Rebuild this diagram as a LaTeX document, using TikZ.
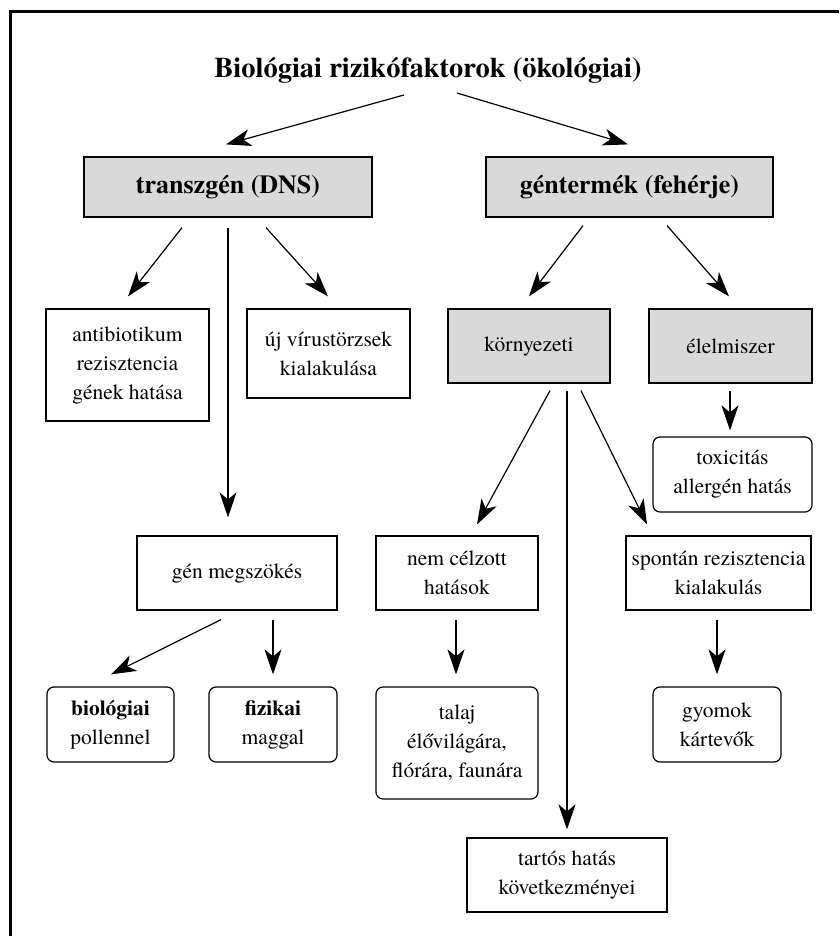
\documentclass[tikz,border=0pt]{standalone}
\usepackage{fontspec}
\IfFontExistsTF{texgyretermes-regular.otf}
  {\setmainfont{texgyretermes-regular.otf}[BoldFont=texgyretermes-bold.otf]}
  {\setmainfont{Liberation Serif}}
\usetikzlibrary{arrows.meta,calc}
\begin{document}
\begin{tikzpicture}[x=1pt,y=-1pt,
  box/.style={draw=black,line width=1.2pt,align=center,inner sep=0pt,font=\fontsize{21.5}{29}\selectfont},
  graybox/.style={box,fill=gray!30},
  rbox/.style={box,rounded corners=7pt},
  arr/.style={-{Stealth[length=25pt,width=17pt,inset=7pt]},line width=1.2pt},
  head/.style={font=\fontsize{26}{30}\selectfont\bfseries}]
\useasboundingbox (0,0) rectangle (839,936);
\draw[line width=3pt] (10,936) -- (10,12) -- (839,12);

\node[anchor=base,font=\fontsize{28.5}{34}\selectfont\bfseries] (title) at (428,78) {Biológiai rizikófaktorok (ökológiai)};

\node[graybox,head,minimum width=288pt,minimum height=60pt] (trans) at (228,187) {transzgén (DNS)};
\node[graybox,head,minimum width=287pt,minimum height=60pt] (gent) at (629.5,187) {géntermék (fehérje)};

\node[box,minimum width=163pt,minimum height=112pt] (anti) at (127.5,365) {antibiotikum\\rezisztencia\\gének hatása};
\node[box,minimum width=163pt,minimum height=89pt] (uj) at (328.5,353.5) {új vírustörzsek\\kialakulása};
\node[graybox,minimum width=162pt,minimum height=74pt] (korny) at (529,346) {környezeti};
\node[graybox,minimum width=163pt,minimum height=74pt] (elel) at (730.5,346) {élelmiszer};
\node[rbox,minimum width=159pt,minimum height=75pt] (tox) at (732.5,474.5) {toxicitás\\allergén hatás};

\node[box,minimum width=200pt,minimum height=74pt] (gen) at (237,573) {gén megszökés};
\node[box,minimum width=162pt,minimum height=74pt] (nemc) at (457,573) {nem célzott\\hatások};
\node[box,minimum width=185pt,minimum height=74pt] (spont) at (718.5,573) {spontán rezisztencia\\kialakulás};

\node[rbox,minimum width=127pt,minimum height=75pt] (bio) at (110.5,724.5) {\textbf{biológiai}\\pollennel};
\node[rbox,minimum width=128pt,minimum height=75pt] (fiz) at (273,724.5) {\textbf{fizikai}\\maggal};
\node[rbox,minimum width=162pt,minimum height=112pt] (talaj) at (457,743) {talaj\\élővilágára,\\flórára, faunára};
\node[rbox,minimum width=128pt,minimum height=75pt] (gyom) at (717,724.5) {gyomok\\kártevők};
\node[box,minimum width=200pt,minimum height=74pt] (tartos) at (567,875) {tartós hatás\\következményei};

\draw[arr] ($(title.base)+(-24,17)$) -- ($(trans.north)+(-2,-12)$);
\draw[arr] ($(title.base)+(29,15)$) -- ($(gent.north)+(-1.5,-12)$);

\draw[arr] ($(trans.south)+(-46,10)$) -- ($(anti.north)+(0.5,-12)$);
\draw[arr] ($(trans.south)+(0,10)$) -- ($(gen.north)+(-9,-18)$);
\draw[arr] ($(trans.south)+(38,10)$) -- ($(uj.north)+(-0.5,-12)$);

\draw[arr] ($(gent.south)+(-46.5,8)$) -- ($(korny.north)+(0,-12)$);
\draw[arr] ($(gent.south)+(37.5,8)$) -- ($(elel.north)+(-1.5,-12)$);

\draw[arr] ($(elel.south)+(-0.5,7)$) -- ($(tox.north)+(-2.5,-6)$);

\draw[arr] ($(korny.south)+(21,7)$) -- ($(nemc.north)+(20,-11)$);
\draw[arr] ($(korny.south)+(38,7)$) -- ($(tartos.north)+(0,-8)$);
\draw[arr] ($(korny.south)+(52,7)$) -- ($(spont.north)+(-71.5,-11)$);

\draw[arr] ($(gen.south)+(-16,9)$) -- ($(bio.north)+(0.5,-12)$);
\draw[arr] ($(gen.south)+(36,9)$) -- ($(fiz.north)+(0,-12)$);
\draw[arr] ($(nemc.south)+(-1,9)$) -- ($(talaj.north)+(-1,-12)$);
\draw[arr] ($(spont.south)+(-1.5,9)$) -- ($(gyom.north)+(0,-12)$);
\end{tikzpicture}
\end{document}
